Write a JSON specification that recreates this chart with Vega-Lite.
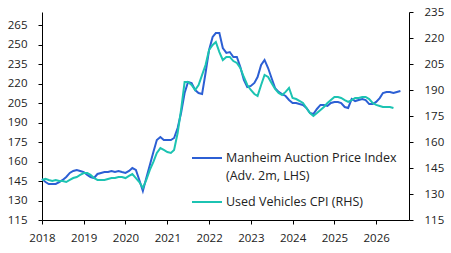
{
  "$schema": "https://vega.github.io/schema/vega-lite/v6.json",
  "width": 367,
  "height": 208,
  "autosize": {"type": "none"},
  "padding": {"left": 42, "top": 12, "right": 42, "bottom": 33},
  "config": {
    "view": {"stroke": null},
    "font": "Open Sans",
    "axis": {
      "domainColor": "#000000",
      "domainWidth": 1,
      "tickColor": "#000000",
      "tickSize": 4,
      "labelColor": "#222222",
      "labelFont": "Open Sans",
      "labelFontSize": 11.5,
      "grid": false,
      "title": null
    }
  },
  "data": {
    "values": [
      {"date": "2018-01-01", "series": "Manheim", "value": 146.5},
      {"date": "2018-02-01", "series": "Manheim", "value": 144.2},
      {"date": "2018-03-01", "series": "Manheim", "value": 142.7},
      {"date": "2018-04-01", "series": "Manheim", "value": 142.7},
      {"date": "2018-05-01", "series": "Manheim", "value": 142.7},
      {"date": "2018-06-01", "series": "Manheim", "value": 144.2},
      {"date": "2018-07-01", "series": "Manheim", "value": 145.8},
      {"date": "2018-08-01", "series": "Manheim", "value": 148.1},
      {"date": "2018-09-01", "series": "Manheim", "value": 151.2},
      {"date": "2018-10-01", "series": "Manheim", "value": 152.7},
      {"date": "2018-11-01", "series": "Manheim", "value": 153.5},
      {"date": "2018-12-01", "series": "Manheim", "value": 152.7},
      {"date": "2019-01-01", "series": "Manheim", "value": 151.9},
      {"date": "2019-02-01", "series": "Manheim", "value": 149.6},
      {"date": "2019-03-01", "series": "Manheim", "value": 148.1},
      {"date": "2019-04-01", "series": "Manheim", "value": 147.3},
      {"date": "2019-05-01", "series": "Manheim", "value": 150.4},
      {"date": "2019-06-01", "series": "Manheim", "value": 151.2},
      {"date": "2019-07-01", "series": "Manheim", "value": 151.9},
      {"date": "2019-08-01", "series": "Manheim", "value": 151.9},
      {"date": "2019-09-01", "series": "Manheim", "value": 152.7},
      {"date": "2019-10-01", "series": "Manheim", "value": 151.9},
      {"date": "2019-11-01", "series": "Manheim", "value": 152.7},
      {"date": "2019-12-01", "series": "Manheim", "value": 151.9},
      {"date": "2020-01-01", "series": "Manheim", "value": 151.2},
      {"date": "2020-02-01", "series": "Manheim", "value": 152.7},
      {"date": "2020-03-01", "series": "Manheim", "value": 155.0},
      {"date": "2020-04-01", "series": "Manheim", "value": 153.5},
      {"date": "2020-05-01", "series": "Manheim", "value": 145.8},
      {"date": "2020-06-01", "series": "Manheim", "value": 137.3},
      {"date": "2020-07-01", "series": "Manheim", "value": 147.3},
      {"date": "2020-08-01", "series": "Manheim", "value": 157.3},
      {"date": "2020-09-01", "series": "Manheim", "value": 167.3},
      {"date": "2020-10-01", "series": "Manheim", "value": 176.5},
      {"date": "2020-11-01", "series": "Manheim", "value": 178.8},
      {"date": "2020-12-01", "series": "Manheim", "value": 176.5},
      {"date": "2021-01-01", "series": "Manheim", "value": 176.5},
      {"date": "2021-02-01", "series": "Manheim", "value": 176.5},
      {"date": "2021-03-01", "series": "Manheim", "value": 178.1},
      {"date": "2021-04-01", "series": "Manheim", "value": 185.8},
      {"date": "2021-05-01", "series": "Manheim", "value": 197.3},
      {"date": "2021-06-01", "series": "Manheim", "value": 212.7},
      {"date": "2021-07-01", "series": "Manheim", "value": 221.2},
      {"date": "2021-08-01", "series": "Manheim", "value": 220.4},
      {"date": "2021-09-01", "series": "Manheim", "value": 215.0},
      {"date": "2021-10-01", "series": "Manheim", "value": 212.7},
      {"date": "2021-11-01", "series": "Manheim", "value": 211.9},
      {"date": "2021-12-01", "series": "Manheim", "value": 228.1},
      {"date": "2022-01-01", "series": "Manheim", "value": 245.8},
      {"date": "2022-02-01", "series": "Manheim", "value": 255.8},
      {"date": "2022-03-01", "series": "Manheim", "value": 258.8},
      {"date": "2022-04-01", "series": "Manheim", "value": 258.8},
      {"date": "2022-05-01", "series": "Manheim", "value": 247.3},
      {"date": "2022-06-01", "series": "Manheim", "value": 243.5},
      {"date": "2022-07-01", "series": "Manheim", "value": 244.2},
      {"date": "2022-08-01", "series": "Manheim", "value": 240.4},
      {"date": "2022-09-01", "series": "Manheim", "value": 240.4},
      {"date": "2022-10-01", "series": "Manheim", "value": 232.7},
      {"date": "2022-11-01", "series": "Manheim", "value": 222.7},
      {"date": "2022-12-01", "series": "Manheim", "value": 217.3},
      {"date": "2023-01-01", "series": "Manheim", "value": 218.1},
      {"date": "2023-02-01", "series": "Manheim", "value": 220.4},
      {"date": "2023-03-01", "series": "Manheim", "value": 225.0},
      {"date": "2023-04-01", "series": "Manheim", "value": 234.2},
      {"date": "2023-05-01", "series": "Manheim", "value": 238.1},
      {"date": "2023-06-01", "series": "Manheim", "value": 231.9},
      {"date": "2023-07-01", "series": "Manheim", "value": 224.2},
      {"date": "2023-08-01", "series": "Manheim", "value": 216.5},
      {"date": "2023-09-01", "series": "Manheim", "value": 213.5},
      {"date": "2023-10-01", "series": "Manheim", "value": 211.9},
      {"date": "2023-11-01", "series": "Manheim", "value": 210.4},
      {"date": "2023-12-01", "series": "Manheim", "value": 207.3},
      {"date": "2024-01-01", "series": "Manheim", "value": 205.0},
      {"date": "2024-02-01", "series": "Manheim", "value": 205.0},
      {"date": "2024-03-01", "series": "Manheim", "value": 204.2},
      {"date": "2024-04-01", "series": "Manheim", "value": 203.5},
      {"date": "2024-05-01", "series": "Manheim", "value": 201.2},
      {"date": "2024-06-01", "series": "Manheim", "value": 197.3},
      {"date": "2024-07-01", "series": "Manheim", "value": 196.5},
      {"date": "2024-08-01", "series": "Manheim", "value": 200.4},
      {"date": "2024-09-01", "series": "Manheim", "value": 203.5},
      {"date": "2024-10-01", "series": "Manheim", "value": 203.5},
      {"date": "2024-11-01", "series": "Manheim", "value": 202.7},
      {"date": "2024-12-01", "series": "Manheim", "value": 205.0},
      {"date": "2025-01-01", "series": "Manheim", "value": 205.8},
      {"date": "2025-02-01", "series": "Manheim", "value": 205.8},
      {"date": "2025-03-01", "series": "Manheim", "value": 205.0},
      {"date": "2025-04-01", "series": "Manheim", "value": 201.9},
      {"date": "2025-05-01", "series": "Manheim", "value": 201.2},
      {"date": "2025-06-01", "series": "Manheim", "value": 208.1},
      {"date": "2025-07-01", "series": "Manheim", "value": 206.5},
      {"date": "2025-08-01", "series": "Manheim", "value": 207.3},
      {"date": "2025-09-01", "series": "Manheim", "value": 208.1},
      {"date": "2025-10-01", "series": "Manheim", "value": 207.3},
      {"date": "2025-11-01", "series": "Manheim", "value": 204.2},
      {"date": "2025-12-01", "series": "Manheim", "value": 204.2},
      {"date": "2026-01-01", "series": "Manheim", "value": 205.8},
      {"date": "2026-02-01", "series": "Manheim", "value": 208.8},
      {"date": "2026-03-01", "series": "Manheim", "value": 212.7},
      {"date": "2026-04-01", "series": "Manheim", "value": 213.5},
      {"date": "2026-05-01", "series": "Manheim", "value": 213.5},
      {"date": "2026-06-01", "series": "Manheim", "value": 212.7},
      {"date": "2026-07-01", "series": "Manheim", "value": 213.5},
      {"date": "2026-08-01", "series": "Manheim", "value": 214.2},
      {"date": "2018-01-01", "series": "CPI", "value": 138.1},
      {"date": "2018-02-01", "series": "CPI", "value": 138.7},
      {"date": "2018-03-01", "series": "CPI", "value": 138.1},
      {"date": "2018-04-01", "series": "CPI", "value": 137.5},
      {"date": "2018-05-01", "series": "CPI", "value": 138.1},
      {"date": "2018-06-01", "series": "CPI", "value": 137.5},
      {"date": "2018-07-01", "series": "CPI", "value": 137.5},
      {"date": "2018-08-01", "series": "CPI", "value": 136.9},
      {"date": "2018-09-01", "series": "CPI", "value": 138.1},
      {"date": "2018-10-01", "series": "CPI", "value": 139.2},
      {"date": "2018-11-01", "series": "CPI", "value": 139.8},
      {"date": "2018-12-01", "series": "CPI", "value": 141.0},
      {"date": "2019-01-01", "series": "CPI", "value": 142.1},
      {"date": "2019-02-01", "series": "CPI", "value": 142.1},
      {"date": "2019-03-01", "series": "CPI", "value": 141.0},
      {"date": "2019-04-01", "series": "CPI", "value": 139.2},
      {"date": "2019-05-01", "series": "CPI", "value": 138.1},
      {"date": "2019-06-01", "series": "CPI", "value": 138.1},
      {"date": "2019-07-01", "series": "CPI", "value": 138.1},
      {"date": "2019-08-01", "series": "CPI", "value": 138.7},
      {"date": "2019-09-01", "series": "CPI", "value": 139.2},
      {"date": "2019-10-01", "series": "CPI", "value": 139.2},
      {"date": "2019-11-01", "series": "CPI", "value": 139.8},
      {"date": "2019-12-01", "series": "CPI", "value": 139.8},
      {"date": "2020-01-01", "series": "CPI", "value": 139.2},
      {"date": "2020-02-01", "series": "CPI", "value": 140.4},
      {"date": "2020-03-01", "series": "CPI", "value": 141.5},
      {"date": "2020-04-01", "series": "CPI", "value": 139.2},
      {"date": "2020-05-01", "series": "CPI", "value": 136.9},
      {"date": "2020-06-01", "series": "CPI", "value": 133.5},
      {"date": "2020-07-01", "series": "CPI", "value": 138.1},
      {"date": "2020-08-01", "series": "CPI", "value": 143.9},
      {"date": "2020-09-01", "series": "CPI", "value": 148.5},
      {"date": "2020-10-01", "series": "CPI", "value": 153.7},
      {"date": "2020-11-01", "series": "CPI", "value": 156.5},
      {"date": "2020-12-01", "series": "CPI", "value": 155.4},
      {"date": "2021-01-01", "series": "CPI", "value": 154.2},
      {"date": "2021-02-01", "series": "CPI", "value": 153.7},
      {"date": "2021-03-01", "series": "CPI", "value": 155.4},
      {"date": "2021-04-01", "series": "CPI", "value": 165.2},
      {"date": "2021-05-01", "series": "CPI", "value": 178.5},
      {"date": "2021-06-01", "series": "CPI", "value": 194.6},
      {"date": "2021-07-01", "series": "CPI", "value": 194.6},
      {"date": "2021-08-01", "series": "CPI", "value": 192.9},
      {"date": "2021-09-01", "series": "CPI", "value": 190.0},
      {"date": "2021-10-01", "series": "CPI", "value": 192.9},
      {"date": "2021-11-01", "series": "CPI", "value": 198.7},
      {"date": "2021-12-01", "series": "CPI", "value": 204.4},
      {"date": "2022-01-01", "series": "CPI", "value": 213.1},
      {"date": "2022-02-01", "series": "CPI", "value": 216.0},
      {"date": "2022-03-01", "series": "CPI", "value": 217.7},
      {"date": "2022-04-01", "series": "CPI", "value": 211.9},
      {"date": "2022-05-01", "series": "CPI", "value": 207.3},
      {"date": "2022-06-01", "series": "CPI", "value": 209.1},
      {"date": "2022-07-01", "series": "CPI", "value": 209.1},
      {"date": "2022-08-01", "series": "CPI", "value": 206.7},
      {"date": "2022-09-01", "series": "CPI", "value": 205.6},
      {"date": "2022-10-01", "series": "CPI", "value": 202.7},
      {"date": "2022-11-01", "series": "CPI", "value": 197.5},
      {"date": "2022-12-01", "series": "CPI", "value": 192.9},
      {"date": "2023-01-01", "series": "CPI", "value": 190.0},
      {"date": "2023-02-01", "series": "CPI", "value": 187.7},
      {"date": "2023-03-01", "series": "CPI", "value": 186.6},
      {"date": "2023-04-01", "series": "CPI", "value": 192.9},
      {"date": "2023-05-01", "series": "CPI", "value": 198.7},
      {"date": "2023-06-01", "series": "CPI", "value": 197.5},
      {"date": "2023-07-01", "series": "CPI", "value": 194.1},
      {"date": "2023-08-01", "series": "CPI", "value": 190.6},
      {"date": "2023-09-01", "series": "CPI", "value": 188.3},
      {"date": "2023-10-01", "series": "CPI", "value": 187.1},
      {"date": "2023-11-01", "series": "CPI", "value": 188.9},
      {"date": "2023-12-01", "series": "CPI", "value": 191.2},
      {"date": "2024-01-01", "series": "CPI", "value": 185.4},
      {"date": "2024-02-01", "series": "CPI", "value": 184.8},
      {"date": "2024-03-01", "series": "CPI", "value": 183.7},
      {"date": "2024-04-01", "series": "CPI", "value": 182.5},
      {"date": "2024-05-01", "series": "CPI", "value": 179.6},
      {"date": "2024-06-01", "series": "CPI", "value": 176.7},
      {"date": "2024-07-01", "series": "CPI", "value": 175.0},
      {"date": "2024-08-01", "series": "CPI", "value": 176.7},
      {"date": "2024-09-01", "series": "CPI", "value": 178.5},
      {"date": "2024-10-01", "series": "CPI", "value": 180.2},
      {"date": "2024-11-01", "series": "CPI", "value": 182.5},
      {"date": "2024-12-01", "series": "CPI", "value": 184.2},
      {"date": "2025-01-01", "series": "CPI", "value": 186.0},
      {"date": "2025-02-01", "series": "CPI", "value": 186.0},
      {"date": "2025-03-01", "series": "CPI", "value": 185.4},
      {"date": "2025-04-01", "series": "CPI", "value": 184.2},
      {"date": "2025-05-01", "series": "CPI", "value": 183.1},
      {"date": "2025-06-01", "series": "CPI", "value": 184.2},
      {"date": "2025-07-01", "series": "CPI", "value": 185.4},
      {"date": "2025-08-01", "series": "CPI", "value": 185.4},
      {"date": "2025-09-01", "series": "CPI", "value": 186.0},
      {"date": "2025-10-01", "series": "CPI", "value": 186.0},
      {"date": "2025-11-01", "series": "CPI", "value": 184.8},
      {"date": "2025-12-01", "series": "CPI", "value": 182.5},
      {"date": "2026-01-01", "series": "CPI", "value": 181.4},
      {"date": "2026-02-01", "series": "CPI", "value": 180.8},
      {"date": "2026-03-01", "series": "CPI", "value": 180.2},
      {"date": "2026-04-01", "series": "CPI", "value": 180.2},
      {"date": "2026-05-01", "series": "CPI", "value": 180.2},
      {"date": "2026-06-01", "series": "CPI", "value": 179.6}
    ]
  },
  "encoding": {
    "x": {
      "field": "date",
      "type": "temporal",
      "scale": {"domain": ["2018-01-01", "2026-10-15"]},
      "axis": {
        "format": "%Y",
        "tickCount": {"interval": "year", "step": 1},
        "labelPadding": 8,
        "labelFlush": false
      }
    },
    "color": {
      "field": "series",
      "type": "nominal",
      "scale": {"domain": ["Manheim", "CPI"], "range": ["#2c5fd4", "#1cc3b2"]},
      "legend": {
        "orient": "none",
        "legendX": 149,
        "legendY": 130,
        "title": null,
        "symbolType": "stroke",
        "symbolSize": 900,
        "symbolStrokeWidth": 2,
        "labelFont": "Open Sans",
        "labelFontSize": 12.5,
        "labelColor": "#222222",
        "labelOffset": 3,
        "labelLimit": 400,
        "rowPadding": 3,
        "labelExpr": "datum.label == 'Manheim' ? ['Manheim Auction Price Index', '(Adv. 2m, LHS)'] : 'Used Vehicles CPI (RHS)'",
        "encode": {"labels": {"update": {"lineHeight": {"value": 18}}}}
      }
    }
  },
  "layer": [
    {
      "transform": [{"filter": "datum.series == 'Manheim'"}],
      "mark": {"type": "line", "strokeWidth": 2},
      "encoding": {
        "y": {
          "field": "value",
          "type": "quantitative",
          "scale": {"domain": [115, 275], "nice": false, "zero": false},
          "axis": {"orient": "left", "values": [115, 130, 145, 160, 175, 190, 205, 220, 235, 250, 265], "labelPadding": 11}
        }
      }
    },
    {
      "transform": [{"filter": "datum.series == 'CPI'"}],
      "mark": {"type": "line", "strokeWidth": 2},
      "encoding": {
        "y": {
          "field": "value",
          "type": "quantitative",
          "scale": {"domain": [115, 235], "nice": false, "zero": false},
          "axis": {"orient": "right", "values": [115, 130, 145, 160, 175, 190, 205, 220, 235], "labelPadding": 11}
        }
      }
    }
  ],
  "resolve": {"scale": {"y": "independent"}}
}
